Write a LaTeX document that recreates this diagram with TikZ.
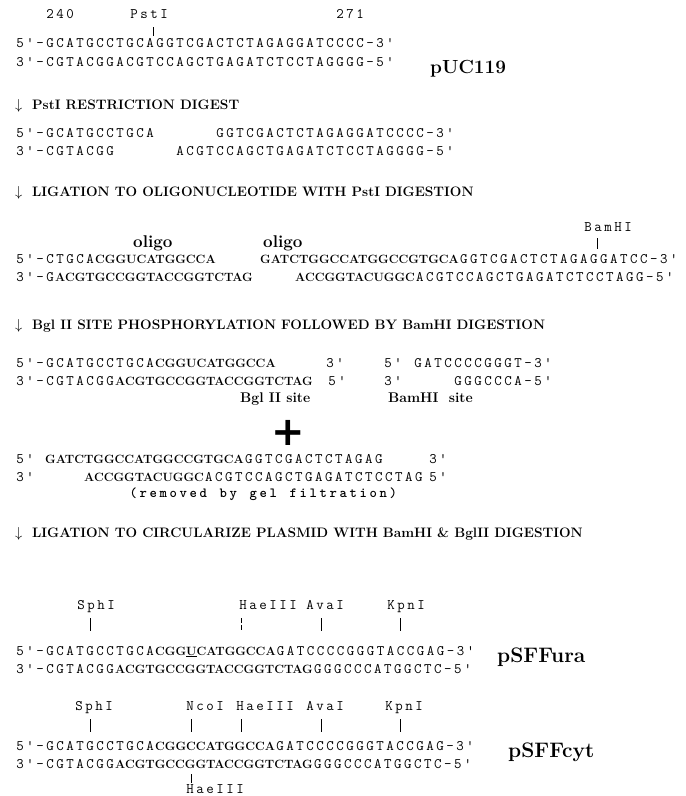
\documentclass[tikz,border=0pt]{standalone}
\usepackage{fontspec}
\usetikzlibrary{positioning}
\newfontfamily\plusfont{DejaVu Sans}

% sequence fonts: typewriter on a 10pt pitch, bold serif
\ExplSyntaxOn
\NewDocumentCommand \sq { m }
  { { \fontsize{14.5}{16}\selectfont \ttfamily \tl_map_inline:nn {#1} { \makebox[10pt][c]{##1} } } }
\NewDocumentCommand \sqb { m }
  { { \fontsize{14}{16}\selectfont \ttfamily \bfseries \tl_map_inline:nn {#1} { \makebox[10pt][c]{##1} } } }
\ExplSyntaxOff
\newcommand\bq[1]{{\fontsize{12}{14}\selectfont\bfseries #1}}
\newcommand\dn{\makebox[17pt][l]{$\downarrow$}}

\begin{document}
\begin{tikzpicture}[x=1pt, y=-1pt,
  txt/.style={anchor=base west, inner sep=0pt},
  head/.style={txt, font=\fontsize{13.7}{16}\selectfont\bfseries},
  tag/.style={txt, font=\fontsize{21}{24}\selectfont\bfseries},
  site/.style={txt, font=\fontsize{14}{16}\selectfont\bfseries},
  tick/.style={line width=0.6pt}]
  \useasboundingbox (0,0) rectangle (686,796);

  % pUC119
  \node[txt] (n240) at (45,18) {\sq{240}};
  \node[txt] (pstTop) at (129,18) {\sq{PstI}};
  \node[txt] (n271) at (335,18) {\sq{271}};
  \coordinate (kPst) at (153,27);
  \draw[tick] (kPst) -- ++(0,9);
  \node[txt] (pucA) at (15,47) {\sq{5'-GCATGCCTGCAGGTCGACTCTAGAGGATCCCC-3'}};
  \node[txt] (pucB) at (15,66) {\sq{3'-CGTACGGACGTCCAGCTGAGATCTCCTAGGGG-5'}};
  \node[tag, font=\fontsize{19}{22}\selectfont\bfseries] (pucName) at (430,73) {pUC119};

  % PstI digest
  \node[head] (h1) at (15,109) {\dn PstI RESTRICTION DIGEST};
  \node[txt] (digA1) at (15,137) {\sq{5'-GCATGCCTGCA}};
  \node[txt] (digA2) at (215,137) {\sq{GGTCGACTCTAGAGGATCCCC-3'}};
  \node[txt] (digB1) at (15,155) {\sq{3'-CGTACGG}};
  \node[txt] (digB2) at (175,155) {\sq{ACGTCCAGCTGAGATCTCCTAGGGG-5'}};

  % ligation to oligo
  \node[head] (h2) at (15,196) {\dn LIGATION TO OLIGONUCLEOTIDE WITH PstI DIGESTION};
  \node[txt] (bamTop) at (583,231) {\sq{BamHI}};
  \coordinate (kBam) at (597,238);
  \draw[tick] (kBam) -- ++(0,11);
  \node[txt, font=\fontsize{17}{20}\selectfont\bfseries] (oligoA) at (133,247) {oligo};
  \node[txt, font=\fontsize{17}{20}\selectfont\bfseries] (oligoB) at (263,247) {oligo};
  \node[txt] (ligA1) at (15,263) {\sq{5'-CTGCA}\bq{CGGUCATGGCCA}};
  \node[txt] (ligA2) at (260,263) {\bq{GATCTGGCCATGGCCGTGCA}\sq{GGTCGACTCTAGAGGATCC-3'}};
  \node[txt] (ligB1) at (15,281) {\sq{3'-G}\bq{ACGTGCCGGTACCGGTCTAG}};
  \node[txt] (ligB2) at (295,281) {\bq{ACCGGTACUGGC}\sq{ACGTCCAGCTGAGATCTCCTAGG-5'}};

  % Bgl II / BamHI
  \node[head] (h3) at (15,329) {\dn Bgl II SITE PHOSPHORYLATION FOLLOWED BY BamHI DIGESTION};
  \node[txt] (bglA1) at (15,367) {\sq{5'-GCATGCCTGCA}\bq{CGGUCATGGCCA}};
  \node[txt] (bglA2) at (325,367) {\sq{3'}};
  \node[txt] (bamA1) at (383,367) {\sq{5'}};
  \node[txt] (bamA2) at (413,367) {\sq{GATCCCCGGGT-3'}};
  \node[txt] (bglB1) at (15,385) {\sq{3'-CGTACGG}\bq{ACGTGCCGGTACCGGTCTAG}};
  \node[txt] (bglB2) at (327,385) {\sq{5'}};
  \node[txt] (bamB1) at (383,385) {\sq{3'}};
  \node[txt] (bamB2) at (453,385) {\sq{GGGCCCA-5'}};
  \node[site] (bglSite) at (240,402) {Bgl II site};
  \node[site] (bamSite) at (388,402) {BamHI\ \ site};

  \node[font=\fontsize{40}{40}\selectfont\plusfont\bfseries, inner sep=0pt] (plus) at (288,433) {+};

  % small fragment
  \node[txt] (remA1) at (15,463) {\sq{5'}};
  \node[txt] (remA2) at (45,463) {\bq{GATCTGGCCATGGCCGTGCA}\sq{GGTCGACTCTAGAG}};
  \node[txt] (remA3) at (428,463) {\sq{3'}};
  \node[txt] (remB1) at (15,481) {\sq{3'}};
  \node[txt] (remB2) at (84,481) {\bq{ACCGGTACUGGC}\sq{ACGTCCAGCTGAGATCTCCTAG}};
  \node[txt] (remB3) at (428,481) {\sq{5'}};
  \node[txt] (gel) at (128,497) {\sqb{(removed~by~gel~filtration)}};

  % circularize
  \node[head] (h4) at (15,537) {\dn LIGATION TO CIRCULARIZE PLASMID WITH BamHI \& BglII DIGESTION};

  % pSFFura
  \node[txt] (uraSph) at (76,609) {\sq{SphI}};
  \node[txt] (uraHae) at (238,609) {\sq{HaeIII}};
  \node[txt] (uraAva) at (305,609) {\sq{AvaI}};
  \node[txt] (uraKpn) at (386,609) {\sq{KpnI}};
  \coordinate (kUraSph) at (90,618);
  \coordinate (kUraHae) at (241,618);
  \coordinate (kUraAva) at (321,618);
  \coordinate (kUraKpn) at (400,618);
  \foreach \k in {kUraSph,kUraAva,kUraKpn}
    \draw[tick] (\k) -- ++(0,13);
  \draw[tick, dash pattern=on 5pt off 2pt] (kUraHae) -- ++(0,13);
  \node[txt] (uraA) at (15,655) {\sq{5'-GCATGCCTGCA}\bq{CGG\underline{U}CATGGCCA}\sq{GATCCCCGGGTACCGAG-3'}};
  \node[txt] (uraB) at (15,673) {\sq{3'-CGTACGG}\bq{ACGTGCCGGTACCGGTCTAG}\sq{GGGCCCATGGCTC-5'}};
  \node[tag] (uraName) at (497,662) {pSFFura};

  % pSFFcyt
  \node[txt] (cytSph) at (74,710) {\sq{SphI}};
  \node[txt] (cytNco) at (185,710) {\sq{NcoI}};
  \node[txt] (cytHae) at (235,710) {\sq{HaeIII}};
  \node[txt] (cytAva) at (305,710) {\sq{AvaI}};
  \node[txt] (cytKpn) at (384,710) {\sq{KpnI}};
  \coordinate (kCytSph) at (90,719);
  \coordinate (kCytNco) at (191,719);
  \coordinate (kCytHae) at (241,719);
  \coordinate (kCytAva) at (321,719);
  \coordinate (kCytKpn) at (400,719);
  \foreach \k in {kCytSph,kCytNco,kCytHae,kCytAva,kCytKpn}
    \draw[tick] (\k) -- ++(0,13);
  \node[txt] (cytA) at (15,750) {\sq{5'-GCATGCCTGCA}\bq{CGGCCATGGCCA}\sq{GATCCCCGGGTACCGAG-3'}};
  \node[txt] (cytB) at (15,768) {\sq{3'-CGTACGG}\bq{ACGTGCCGGTACCGGTCTAG}\sq{GGGCCCATGGCTC-5'}};
  \node[tag] (cytName) at (508,757) {pSFFcyt};
  \coordinate (kCytHaeB) at (191,774);
  \draw[tick] (kCytHaeB) -- ++(0,9);
  \node[txt] (cytHaeB) at (185,793) {\sq{HaeIII}};
\end{tikzpicture}
\end{document}
